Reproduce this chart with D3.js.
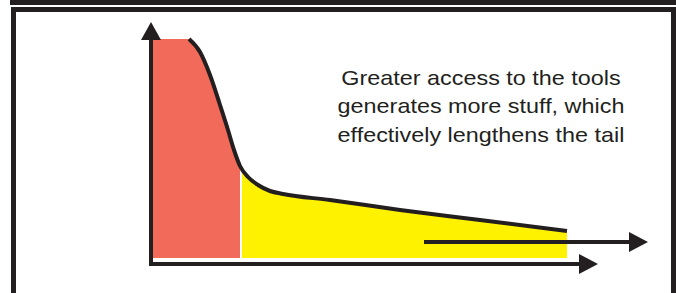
<!DOCTYPE html>
<html><head><meta charset="utf-8">
<script src="https://cdn.jsdelivr.net/npm/d3@7"></script>
<style>html,body{margin:0;padding:0;background:#fff;}svg{display:block;}</style>
</head><body>
<script>
// Long-tail curve (abstract units: x = popularity rank, y = quantity)
const curveX = [2, 38, 49, 59, 69, 77, 83, 89, 97, 107, 119, 132, 179, 249, 329, 416];
const curveY = [225, 225, 212, 189, 159, 134, 114, 98, 87, 79, 73, 70, 64, 54, 44, 33];
const headEnd = 89;      // boundary between head (red) and tail (yellow)
const tailStart = 91;
const baseY = 6;
const axisXEnd = 447, axisYEnd = 242;
const extArrowY = [22], extArrowX = [273, 497];
const labelLines = ["Greater access to the tools", "generates more stuff, which", "effectively lengthens the tail"];

const W = 676, H = 293;
const svg = d3.select("body").append("svg").attr("width", W).attr("height", H);
const x = d3.scaleLinear().domain([0, 450]).range([151, 601]);
const y = d3.scaleLinear().domain([0, 240]).range([264, 24]);
const ink = "#231f20";

// frame
svg.append("rect").attr("x", 10).attr("y", 0).attr("width", 666).attr("height", 5).attr("fill", ink);
svg.append("rect").attr("x", 13.5).attr("y", 9.5).attr("width", 660).attr("height", 320)
  .attr("fill", "none").attr("stroke", ink).attr("stroke-width", 5);

const pts = curveX.map((d, i) => [d, curveY[i]]);
const area = d3.area().x(d => x(d[0])).y0(y(baseY)).y1(d => y(d[1])).curve(d3.curveMonotoneX);
const defs = svg.append("defs");
defs.append("clipPath").attr("id", "cHead").append("rect")
  .attr("x", x(curveX[0])).attr("y", 0).attr("width", x(headEnd) - x(curveX[0])).attr("height", H);
defs.append("clipPath").attr("id", "cTail").append("rect")
  .attr("x", x(tailStart)).attr("y", 0).attr("width", x(curveX[curveX.length-1]) - x(tailStart)).attr("height", H);

svg.append("path").datum(pts).attr("d", area).attr("fill", "#f26a5a").attr("clip-path", "url(#cHead)");
svg.append("path").datum(pts).attr("d", area).attr("fill", "#fff200").attr("clip-path", "url(#cTail)");

const line = d3.line().x(d => x(d[0])).y(d => y(d[1])).curve(d3.curveMonotoneX);
svg.append("path").datum(pts.slice(1)).attr("d", line).attr("fill", "none")
  .attr("stroke", ink).attr("stroke-width", 4).attr("stroke-linecap", "butt");

function arrowH(x0, x1, yy) {
  const tip = x(x1), py = y(yy);
  svg.append("line").attr("x1", x(x0)).attr("x2", tip - 16).attr("y1", py).attr("y2", py)
    .attr("stroke", ink).attr("stroke-width", 4);
  svg.append("path").attr("d", `M${tip},${py}L${tip-19},${py-10}L${tip-19},${py+10}Z`).attr("fill", ink);
}
// y axis
const ax0 = x(0), tipY = y(axisYEnd);
svg.append("line").attr("x1", ax0).attr("x2", ax0).attr("y1", y(0) + 2).attr("y2", tipY + 16)
  .attr("stroke", ink).attr("stroke-width", 4);
svg.append("path").attr("d", `M${ax0},${tipY}L${ax0-10},${tipY+18}L${ax0+10},${tipY+18}Z`).attr("fill", ink);
// x axis
svg.append("line").attr("x1", ax0 - 2).attr("x2", x(axisXEnd) - 16).attr("y1", y(0)).attr("y2", y(0))
  .attr("stroke", ink).attr("stroke-width", 4);
svg.append("path").attr("d", `M${x(axisXEnd)},${y(0)}L${x(axisXEnd)-19},${y(0)-10}L${x(axisXEnd)-19},${y(0)+10}Z`).attr("fill", ink);
// extension arrow
arrowH(extArrowX[0], extArrowX[1], extArrowY[0]);

// label (horizontally stretched like the original)
const t = svg.append("text").attr("text-anchor", "middle")
  .attr("transform", "translate(481,0) scale(1.17,1)")
  .attr("font-family", "'Liberation Sans', Arial, sans-serif").attr("font-size", 20).attr("fill", ink);
labelLines.forEach((s, i) => t.append("tspan").attr("x", 0).attr("y", 85 + i * 28.5).text(s));
</script>
</body></html>
